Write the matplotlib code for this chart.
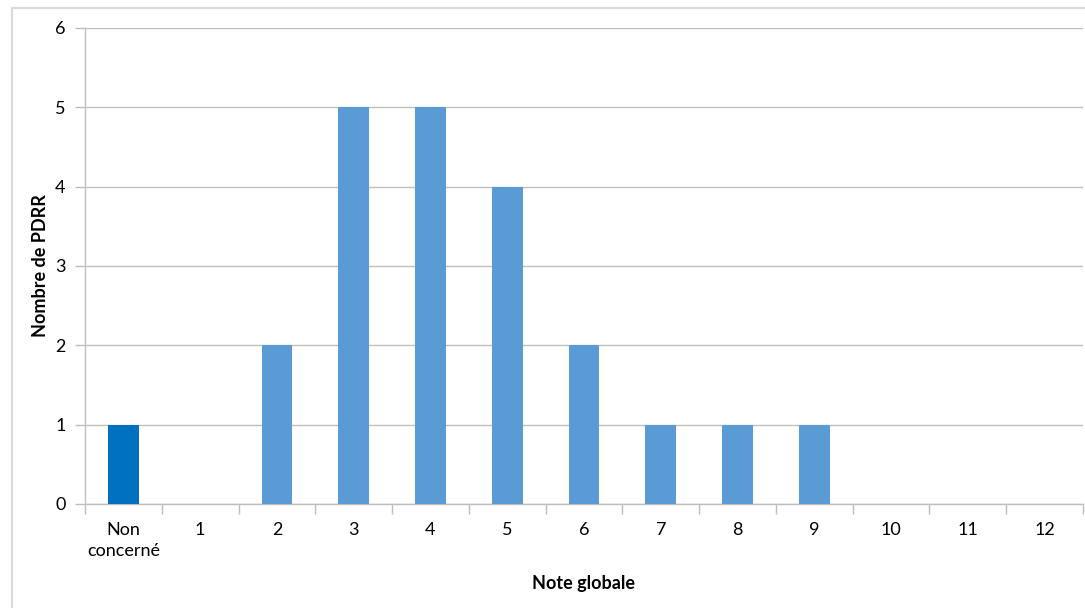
import matplotlib
matplotlib.use("Agg")
import matplotlib.pyplot as plt
from matplotlib.patches import Rectangle

categories = ["Non\nconcerné", "1", "2", "3", "4", "5", "6", "7", "8", "9", "10", "11", "12"]
counts = [1, 0, 2, 5, 5, 4, 2, 1, 1, 1, 0, 0, 0]
bar_colors = ["#0070C0"] + ["#5B9BD5"] * 12

plt.rcParams["font.family"] = ["Lato", "DejaVu Sans"]

fig = plt.figure(figsize=(10.85, 6.08), dpi=100)
ax = fig.add_axes([85 / 1085, 104 / 608, 998 / 1085, 476 / 608])

# light frame around the chart area, like the Excel export
fig.patches.append(Rectangle((12 / 1085, -0.1), 1.2, 1.1 - 8 / 608,
                             transform=fig.transFigure, fill=False,
                             edgecolor="#D9D9D9", linewidth=1.5))

x = range(len(categories))
ax.bar(x, counts, width=0.4, color=bar_colors, zorder=3)

ax.set_xlim(-0.5, len(categories) - 0.5)
ax.set_ylim(0, 6)
ax.set_yticks(range(7))
ax.yaxis.grid(True, color="#BFBFBF", linewidth=1)
ax.set_axisbelow(True)

ax.set_xticks(list(x))
ax.set_xticklabels(categories, fontsize=13, linespacing=1.35)
ax.set_xticks([i - 0.5 for i in range(len(categories) + 1)], minor=True)
ax.tick_params(axis="x", which="major", length=0, pad=13)
ax.tick_params(axis="x", which="minor", length=7, color="#BFBFBF", width=1)
ax.tick_params(axis="y", length=7, color="#BFBFBF", width=1, labelsize=13, pad=7)

for side in ["top", "right"]:
    ax.spines[side].set_visible(False)
for side in ["left", "bottom"]:
    ax.spines[side].set_color("#BFBFBF")
    ax.spines[side].set_linewidth(1)

ax.set_ylabel("Nombre de PDRR", fontsize=13, fontweight="bold", labelpad=4)
ax.set_xlabel("Note globale", fontsize=13, fontweight="bold", labelpad=12)

fig.savefig("out.png", dpi=100)
